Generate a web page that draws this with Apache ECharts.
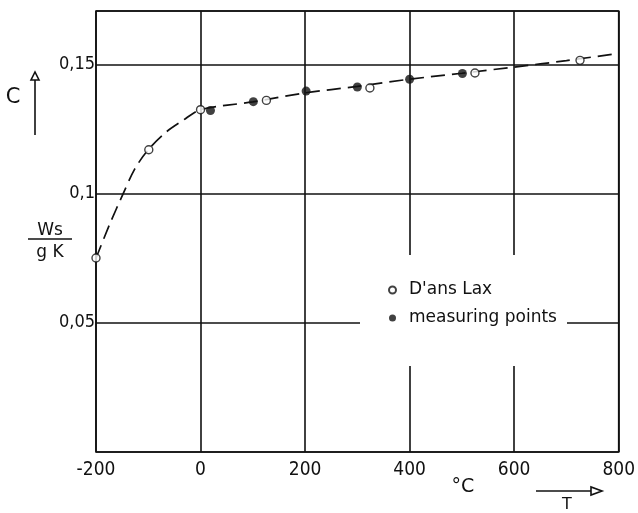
<!DOCTYPE html>
<html>
<head>
<meta charset="utf-8">
<script src="https://cdn.jsdelivr.net/npm/echarts@6/dist/echarts.min.js"></script>
<style>html,body{margin:0;padding:0;background:#fff;}#c{width:638px;height:513px;}</style>
</head>
<body>
<div id="c"></div>
<script>
// Temperature T (°C) and specific heat c (Ws/gK)
const dansLaxT = [-200, -99, 0, 126, 324, 525, 726];
const dansLaxC = [0.0751, 0.117, 0.1325, 0.1361, 0.1409, 0.1467, 0.1516];
const measuredT = [19, 101, 202, 300, 400, 501];
const measuredC = [0.1322, 0.1356, 0.1397, 0.1413, 0.1443, 0.1465];
const curveT = [-200, -174, -148, -126, -100, -66, -34, 0, 100, 200, 300, 400, 500, 600, 700, 800];
const curveC = [0.075, 0.0881, 0.1, 0.1095, 0.117, 0.1238, 0.1283, 0.1325, 0.1355, 0.139, 0.1415, 0.1443, 0.1466, 0.149, 0.1515, 0.1543];
const xTicks = [-200, 0, 200, 400, 600, 800];
const yTicks = [0.05, 0.1, 0.15];
const legendNames = ["D'ans Lax", "measuring points"];

const zip = (a, b) => a.map((v, i) => [v, b[i]]);
const chart = echarts.init(document.getElementById('c'), null, {renderer: 'canvas'});
const ink = '#111';
const tickFont = '"DejaVu Sans Condensed", "Liberation Sans Narrow", sans-serif';

chart.setOption({
  animation: false,
  backgroundColor: '#fff',
  grid: {left: 96, top: 11, width: 524, height: 441, show: true, borderColor: ink, borderWidth: 1.6, backgroundColor: 'transparent'},
  xAxis: {
    type: 'value', min: -200, max: 800, interval: 200,
    axisLine: {show: false}, axisTick: {show: false},
    splitLine: {show: true, lineStyle: {color: ink, width: 1.6}},
    axisLabel: {
      color: ink, fontFamily: tickFont, fontSize: 19, margin: 9,
      formatter: v => xTicks.includes(v) ? String(v) : ''
    }
  },
  yAxis: {
    type: 'value', min: 0, max: 0.1707, interval: 0.05,
    axisLine: {show: false}, axisTick: {show: false},
    splitLine: {show: true, lineStyle: {color: ink, width: 1.6}},
    axisLabel: {
      color: ink, fontFamily: tickFont, fontSize: 18, margin: 1,
      showMaxLabel: false,
      formatter: v => {
        const t = yTicks.find(y => Math.abs(y - v) < 1e-9);
        return t === undefined ? '' : String(t).replace('.', ',');
      }
    }
  },
  legend: {
    data: legendNames, orient: 'vertical', left: 383, top: 275,
    itemWidth: 7, itemHeight: 7, itemGap: 8,
    textStyle: {color: ink, fontFamily: '"DejaVu Sans", sans-serif', fontSize: 17, lineHeight: 20, padding: [0, 0, 0, 8]},
    selectedMode: false
  },
  graphic: [
    {type: 'rect', z: 3, shape: {x: 360, y: 255, width: 207, height: 111}, style: {fill: '#fff'}},
    {type: 'text', z: 10, x: 13, y: 98, style: {text: 'C', font: '21px "DejaVu Sans", sans-serif', fill: ink, align: 'center', verticalAlign: 'middle'}},
    {type: 'line', z: 10, shape: {x1: 35, y1: 80, x2: 35, y2: 135}, style: {stroke: ink, lineWidth: 1.6}},
    {type: 'polygon', z: 10, shape: {points: [[31, 80], [39, 80], [35, 72]]}, style: {stroke: ink, fill: '#fff', lineWidth: 1.6}},
    {type: 'text', z: 10, x: 50, y: 231, style: {text: 'Ws', font: '17px "DejaVu Sans", sans-serif', fill: ink, align: 'center', verticalAlign: 'middle'}},
    {type: 'line', z: 10, shape: {x1: 28, y1: 239, x2: 72, y2: 239}, style: {stroke: ink, lineWidth: 1.6}},
    {type: 'text', z: 10, x: 50, y: 253, style: {text: 'g K', font: '17px "DejaVu Sans", sans-serif', fill: ink, align: 'center', verticalAlign: 'middle'}},
    {type: 'text', z: 10, x: 463, y: 487, style: {text: '°C', font: '19px "DejaVu Sans", sans-serif', fill: ink, align: 'center', verticalAlign: 'middle'}},
    {type: 'line', z: 10, shape: {x1: 536, y1: 491, x2: 592, y2: 491}, style: {stroke: ink, lineWidth: 1.6}},
    {type: 'polygon', z: 10, shape: {points: [[591, 487], [591, 495], [602, 491]]}, style: {stroke: ink, fill: '#fff', lineWidth: 1.6}},
    {type: 'text', z: 10, x: 567, y: 505, style: {text: 'T', font: '16px "DejaVu Sans", sans-serif', fill: ink, align: 'center', verticalAlign: 'middle'}}
  ],
  series: [
    {
      type: 'line', name: 'curve', data: zip(curveT, curveC), smooth: 0.3,
      showSymbol: false, z: 2,
      lineStyle: {color: ink, width: 1.7, type: [14, 7]}
    },
    {
      type: 'scatter', name: legendNames[0], data: zip(dansLaxT, dansLaxC), symbol: 'circle', symbolSize: 8, z: 4,
      itemStyle: {color: '#fff', borderColor: ink, borderWidth: 1.4}
    },
    {
      type: 'scatter', name: legendNames[1], data: zip(measuredT, measuredC), symbol: 'circle', symbolSize: 9, z: 4,
      itemStyle: {color: ink}
    }
  ]
});
</script>
</body>
</html>
